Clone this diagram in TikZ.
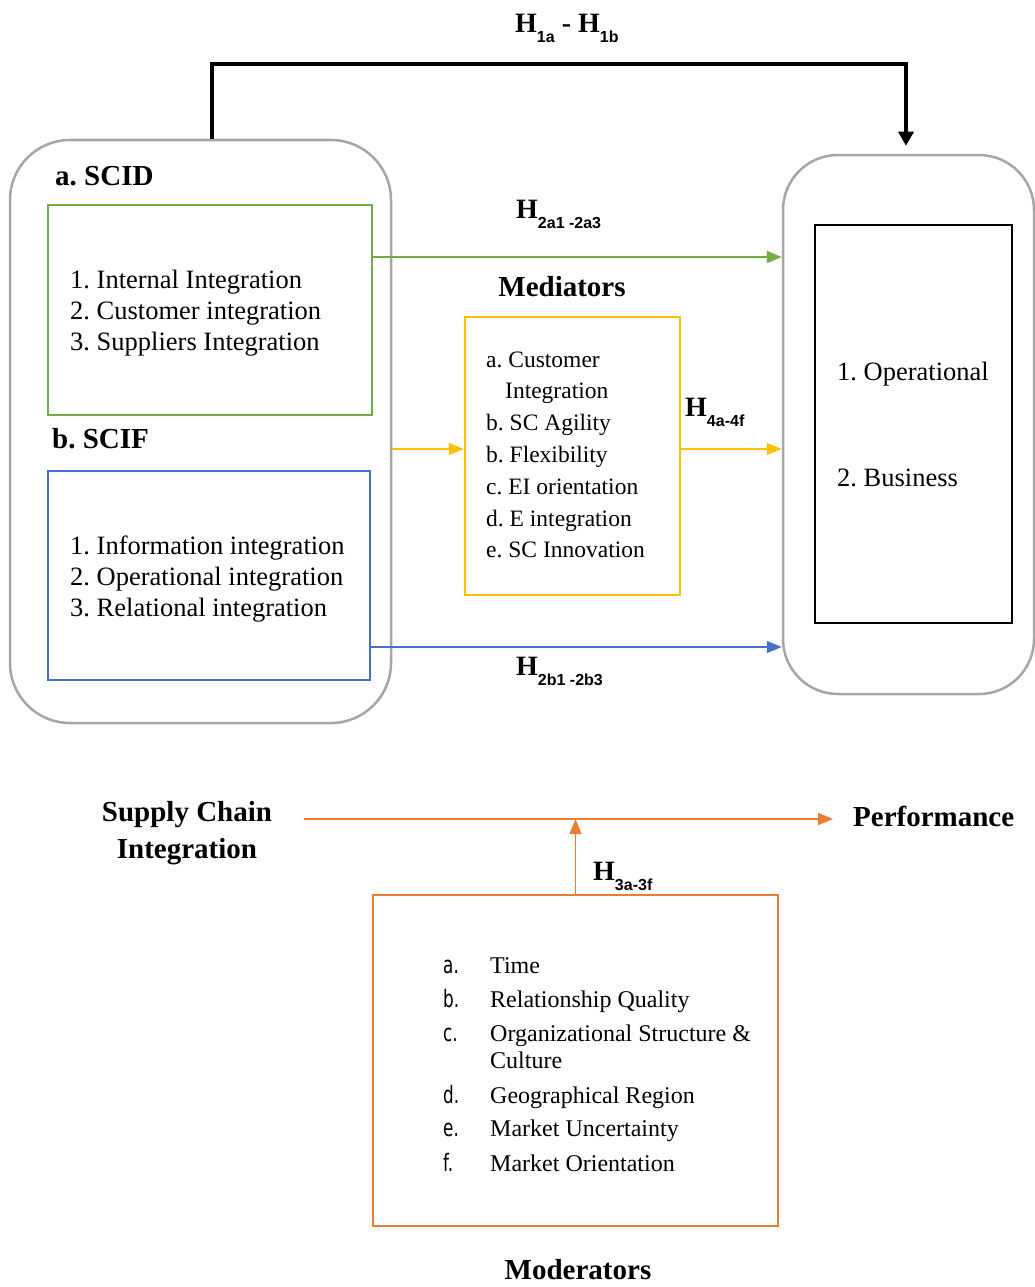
\documentclass[tikz,border=0pt]{standalone}
\usepackage{fontspec}
\setmainfont{Liberation Serif}
\newfontfamily\subfont{Liberation Sans}
\newfontfamily\letfont[FakeStretch=0.7]{DejaVu Sans}
\usetikzlibrary{arrows.meta}
\definecolor{framegray}{HTML}{A6A6A6}
\definecolor{scgreen}{HTML}{70AD47}
\definecolor{scblue}{HTML}{4472C4}
\definecolor{scyellow}{HTML}{FFC000}
\definecolor{scorange}{HTML}{ED7D31}
\frenchspacing
% hypothesis label: bold H with a lowered sans-serif index
\newcommand\hyp[1]{\textbf{H}\raisebox{-10pt}{\subfont\bfseries\fontsize{16}{16}\selectfont #1}}
\begin{document}
\begin{tikzpicture}[x=1pt,y=-1pt,
  panel/.style={draw=framegray,line width=2.5pt,rounded corners=60pt,inner sep=0pt},
  groupbox/.style={line width=2.4pt,inner sep=0pt},
  heading/.style={font=\bfseries\fontsize{29}{34}\selectfont,inner sep=0pt},
  listline/.style={font=\fontsize{26.5}{30}\selectfont,inner sep=0pt,anchor=base west},
  medline/.style={font=\fontsize{23.5}{26}\selectfont,inner sep=0pt,anchor=base west},
  modline/.style={font=\fontsize{24}{27}\selectfont,inner sep=0pt,anchor=base west},
  modletter/.style={font=\letfont\fontsize{24}{26}\selectfont,inner sep=0pt,anchor=base west},
  hlabel/.style={font=\fontsize{28}{30}\selectfont,inner sep=0pt,anchor=base west},
  link/.style={-{Triangle[length=15pt,width=12pt]}},
]
\useasboundingbox (0,0) rectangle (1035,1287);

% outer panels
\node[panel,minimum width=381pt,minimum height=583pt] (lbox) at (200.5,431.5) {};
\node[panel,rounded corners=55pt,minimum width=251pt,minimum height=539pt] (rbox) at (908.5,424.5) {};

% inner boxes
\node[groupbox,draw=scgreen,minimum width=324pt,minimum height=210pt] (green) at (210,310) {};
\node[groupbox,draw=scblue,minimum width=322pt,minimum height=209pt] (blue) at (209,575.5) {};
\node[groupbox,draw=scyellow,minimum width=215pt,minimum height=278pt] (med) at (572.5,456) {};
\node[groupbox,draw=black,minimum width=197pt,minimum height=398pt] (perfbox) at (913.5,424) {};
\node[groupbox,draw=scorange,minimum width=405pt,minimum height=331pt] (mod) at (575.5,1060.5) {};

% headings
\node[heading,anchor=base west] (scid) at (55,185) {a. SCID};
\node[heading,anchor=base west] (scif) at (52,448) {b. SCIF};
\node[heading,anchor=base] (medt) at (562,296) {Mediators};
\node[heading,anchor=base] (sc1) at (187,821) {Supply Chain};
\node[heading,anchor=base] (sc2) at (187,858) {Integration};
\node[heading,anchor=base west] (perf) at (853,826) {Performance};
\node[heading,anchor=base] (modt) at (578,1279) {Moderators};

% hypothesis labels
\node[hlabel] (h1) at (515,33) {\hyp{1a} \textbf{-} \hyp{1b}};
\node[hlabel] (h2a) at (516,218) {\hyp{2a1 -2a3}};
\node[hlabel] (h4) at (685,416) {\hyp{4a-4f}};
\node[hlabel] (h2b) at (516,675) {\hyp{2b1 -2b3}};
\node[hlabel] (h3) at (593,880) {\hyp{3a-3f}};

% SCID items
\foreach \t [count=\i] in {1. Internal Integration, 2. Customer integration, 3. Suppliers Integration}
  \node[listline] (g\i) at (70,257+31*\i) {\t};
% SCIF items
\foreach \t [count=\i] in {1. Information integration, 2. Operational integration, 3. Relational integration}
  \node[listline] (b\i) at (70,523+31*\i) {\t};
% mediator items
\foreach \x/\t [count=\i] in {486/a. Customer, 505/Integration, 486/b. SC Agility, 486/b. Flexibility, 486/c. EI orientation, 486/d. E integration, 486/e. SC Innovation}
  \node[medline] (m\i) at (\x,335.2+31.8*\i) {\t};
% performance items
\node[listline] (op) at (837,380) {1. Operational};
\node[listline] (bus) at (837,486) {2. Business};
% moderator items
\foreach \l/\t/\y [count=\i] in {a./Time/973, b./Relationship Quality/1007, c./Organizational Structure \&/1041, /Culture/1068, d./Geographical Region/1103, e./Market Uncertainty/1136.5, f./Market Orientation/1171.5}
{
  \node[modletter] (ml\i) at (443,\y) {\l};
  \node[modline] (mt\i) at (490,\y) {\t};
}

% connectors
\coordinate (rail) at (560,64);
\draw[line width=3.2pt,-{Triangle[length=14pt,width=15pt]}]
  ([xshift=11.5pt]lbox.north) |- (rail) -| ([xshift=-2.5pt,yshift=8pt]rbox.north);
\draw[link,color=scgreen,line width=2pt]
  ([yshift=53pt]green.east) -- ([yshift=53pt]green.east -| rbox.west);
\draw[link,color=scyellow,line width=1.3pt]
  ([yshift=7pt]med.west -| lbox.east) -- ([yshift=7pt]med.west);
\draw[link,color=scyellow,line width=1.3pt]
  ([yshift=7pt]med.east) -- ([yshift=7pt]med.east -| rbox.west);
\draw[link,color=scblue,line width=1.5pt]
  ([yshift=-71.5pt]blue.east) -- ([yshift=-71.5pt]blue.east -| rbox.west);
\coordinate (flowstart) at (304,819);
\draw[link,color=scorange,line width=1.5pt,shorten >=20pt]
  (flowstart) -- (flowstart -| perf.west);
\draw[link,color=scorange,line width=1.5pt]
  (mod.north) -- (mod.north |- flowstart);
\end{tikzpicture}
\end{document}
